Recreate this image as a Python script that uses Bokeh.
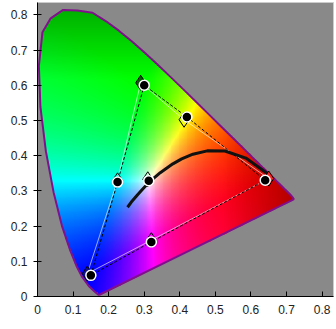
import numpy as np
from bokeh.plotting import figure
from bokeh.models import Range1d, FixedTicker
from bokeh.embed import file_html
from bokeh.resources import INLINE

# CIE 1931 spectral locus (x, y) as drawn, 380..~645 nm
locus_x = [0.1741, 0.1733, 0.1726, 0.1714, 0.1689, 0.1644, 0.1566, 0.1440, 0.1241, 0.1096,
           0.0913, 0.0687, 0.0454, 0.0235, 0.0082, 0.0039, 0.0139, 0.0370, 0.0720, 0.1120,
           0.1547, 0.1929, 0.2296, 0.2658, 0.3016, 0.3373, 0.3731, 0.4087, 0.4441, 0.4788,
           0.5125, 0.5448, 0.5752, 0.6029, 0.6270, 0.6658, 0.6915, 0.7079, 0.7170, 0.7200]
locus_y = [0.0050, 0.0048, 0.0048, 0.0051, 0.0069, 0.0109, 0.0177, 0.0297, 0.0578, 0.0868,
           0.1327, 0.2007, 0.2950, 0.4127, 0.5384, 0.6548, 0.7502, 0.7900, 0.8140, 0.8120,
           0.8059, 0.7816, 0.7543, 0.7243, 0.6923, 0.6589, 0.6245, 0.5896, 0.5547, 0.5202,
           0.4866, 0.4544, 0.4242, 0.3965, 0.3725, 0.3340, 0.3083, 0.2920, 0.2820, 0.2760]

# gamut drawn with filled circles (blue, cyan, green, yellow, red, magenta) and white point
circ_x = [0.15, 0.225, 0.30, 0.42, 0.64, 0.32]
circ_y = [0.06, 0.325, 0.60, 0.51, 0.33, 0.155]
white_x = [0.3127]
white_y = [0.329]

# second gamut drawn with open diamonds
dia_x = [0.14, 0.225, 0.29, 0.412, 0.65, 0.32]
dia_y = [0.065, 0.33, 0.607, 0.502, 0.335, 0.16]
dia_fill = ["#10108a", None, "#0b5a0b", None, "#ff2020", None]
dwhite_x = [0.31]
dwhite_y = [0.333]

# Planckian locus (25000 K .. 1000 K)
planck_x = [0.2531, 0.2637, 0.2807, 0.2952, 0.3064, 0.3221, 0.3451, 0.3805, 0.4053, 0.4369,
            0.4770, 0.5267, 0.5857, 0.6528]
planck_y = [0.2535, 0.2682, 0.2884, 0.3048, 0.3166, 0.3318, 0.3516, 0.3768, 0.3907, 0.4041,
            0.4137, 0.4133, 0.3931, 0.3444]

tick_vals = [0, 0.1, 0.2, 0.3, 0.4, 0.5, 0.6, 0.7, 0.8]
tick_labels = ["0", "0.1", "0.2", "0.3", "0.4", "0.5", "0.6", "0.7", "0.8"]

# ---- chromaticity colour image ----
W, H = 0.75, 0.85
nx, ny = 300, 340
xs = (np.arange(nx) + 0.5) / nx * W
ys = (np.arange(ny) + 0.5) / ny * H
xx, yy = np.meshgrid(xs, ys)
yy_s = np.maximum(yy, 1e-4)
X = xx / yy_s
Y = np.ones_like(xx)
Z = (1 - xx - yy) / yy_s
M = np.array([[3.2406, -1.5372, -0.4986],
              [-0.9689, 1.8758, 0.0415],
              [0.0557, -0.2040, 1.0570]])
rgb = np.tensordot(M, np.stack([X, Y, Z]), axes=1)
rgb = np.clip(rgb, 0, None)
rgb = rgb / np.maximum(rgb.max(axis=0, keepdims=True), 1e-9)
rgb = np.power(rgb, 1.1)
# slight darkening towards the top of the green lobe and the red tip
shade = np.clip(1.0 - np.clip(yy - 0.62, 0, None) * 1.6, 0.6, 1.0)
shade = shade * np.clip(1.0 - np.clip(xx - 0.52, 0, None) * 1.5, 0.7, 1.0)
rgb = rgb * shade
rgb = np.clip(rgb * 255, 0, 255).astype(np.uint8)

px = np.array(locus_x + [locus_x[0]])
py = np.array(locus_y + [locus_y[0]])
inside = np.zeros(xx.shape, dtype=bool)
for i in range(len(px) - 1):
    x1, y1, x2, y2 = px[i], py[i], px[i + 1], py[i + 1]
    cond = ((y1 > yy) != (y2 > yy))
    xint = x1 + (yy - y1) * (x2 - x1) / ((y2 - y1) if y2 != y1 else 1e-12)
    inside ^= cond & (xx < xint)

img = np.zeros((ny, nx), dtype=np.uint32)
view = img.view(dtype=np.uint8).reshape((ny, nx, 4))
view[:, :, 0] = rgb[0]
view[:, :, 1] = rgb[1]
view[:, :, 2] = rgb[2]
view[:, :, 3] = np.where(inside, 255, 0)

p = figure(width=336, height=329, output_backend="svg", toolbar_location=None,
           x_range=Range1d(0, 0.832), y_range=Range1d(0, 0.835),
           min_border_left=37, min_border_right=3, min_border_top=2, min_border_bottom=33)
p.background_fill_color = "#898989"
p.border_fill_color = "white"
p.outline_line_color = "#cccccc"
p.grid.visible = False

p.image_rgba(image=[img], x=0, y=0, dw=W, dh=H)
p.line(locus_x + [locus_x[0]], locus_y + [locus_y[0]], line_color="#80108c", line_width=2)

# second gamut (white solid)
p.line(dia_x + [dia_x[0]], dia_y + [dia_y[0]], line_color="white", line_width=1, line_alpha=0.6)
# first gamut (black dashed)
p.line(circ_x + [circ_x[0]], circ_y + [circ_y[0]], line_color="black", line_width=1, line_dash="3 2")

p.line(planck_x, planck_y, line_color="#111111", line_width=3)

for fx, fy, fc in zip(dia_x, dia_y, dia_fill):
    p.scatter([fx], [fy], marker="diamond", size=15, line_color="black", line_width=1,
              fill_color=fc if fc else None)
p.scatter(dwhite_x, dwhite_y, marker="diamond", size=15, line_color="black", line_width=1, fill_color=None)

p.scatter(circ_x, circ_y, marker="circle", size=10, fill_color="black", line_color="white", line_width=1.5)
p.scatter(white_x, white_y, marker="circle", size=10, fill_color="black", line_color="white", line_width=1.5)

for ax in (p.xaxis[0], p.yaxis[0]):
    ax.ticker = FixedTicker(ticks=tick_vals)
    ax.major_label_overrides = {v: s for v, s in zip(tick_vals, tick_labels)}
    ax.minor_tick_line_color = None
    ax.axis_line_color = "black"
    ax.major_tick_line_color = "black"
    ax.major_label_text_font = "Liberation Sans"
    ax.major_label_text_font_size = "12px"
    ax.major_label_text_color = "#222222"
p.xaxis.major_tick_in = 5
p.xaxis.major_tick_out = 0
p.xaxis.major_label_standoff = 8
p.yaxis.major_tick_in = 4
p.yaxis.major_tick_out = 4
p.yaxis.major_label_standoff = 6

open("out.html", "w").write(file_html(p, INLINE))
